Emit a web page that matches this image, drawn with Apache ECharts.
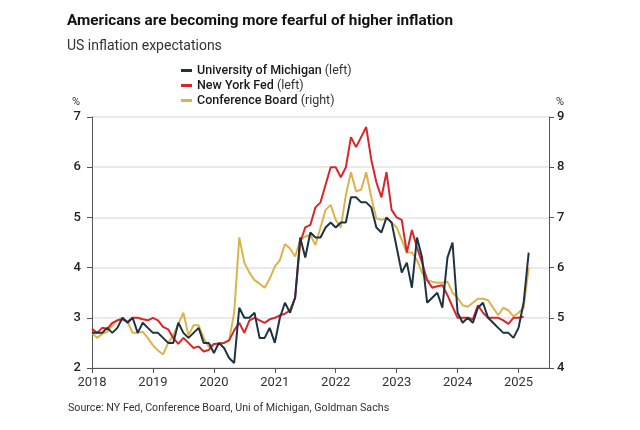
<!DOCTYPE html>
<html>
<head>
<meta charset="utf-8">
<script src="https://cdn.jsdelivr.net/npm/echarts@6/dist/echarts.min.js"></script>
<style>
html,body{margin:0;padding:0;background:#fff;}
#chart{width:640px;height:430px;}
</style>
</head>
<body>
<div id="chart"></div>
<script>
// Monthly observations, first point = Dec 2017 (plotted at month end)
const startYear = 2018;
const xTicks = [2018, 2019, 2020, 2021, 2022, 2023, 2024, 2025];
const leftTicks = [2, 3, 4, 5, 6, 7];
const rightTicks = [4, 5, 6, 7, 8, 9];

const seriesNames = ['University of Michigan (left)', 'New York Fed (left)', 'Conference Board (right)'];

// University of Michigan 1-yr expectations (left axis, %)
const michigan = [
  2.7,
  2.7, 2.7, 2.8, 2.7, 2.8, 3.0, 2.9, 3.0, 2.7, 2.9, 2.8, 2.7,
  2.7, 2.6, 2.5, 2.5, 2.9, 2.7, 2.6, 2.7, 2.8, 2.5, 2.5, 2.3,
  2.5, 2.4, 2.2, 2.1, 3.2, 3.0, 3.0, 3.1, 2.6, 2.6, 2.8, 2.5,
  3.0, 3.3, 3.1, 3.4, 4.6, 4.2, 4.7, 4.6, 4.6, 4.8, 4.9, 4.8,
  4.9, 4.9, 5.4, 5.4, 5.3, 5.3, 5.2, 4.8, 4.7, 5.0, 4.9, 4.4,
  3.9, 4.1, 3.6, 4.6, 4.2, 3.3, 3.4, 3.5, 3.2, 4.2, 4.5, 3.1,
  2.9, 3.0, 2.9, 3.2, 3.3, 3.0, 2.9, 2.8, 2.7, 2.7, 2.6, 2.8,
  3.3, 4.3
];

// New York Fed 1-yr expectations (left axis, %)
const nyFed = [
  2.78,
  2.7, 2.8, 2.78, 2.9, 2.95, 2.97, 2.92, 3.0, 3.0, 2.97, 2.95, 3.0,
  2.95, 2.82, 2.77, 2.6, 2.48, 2.6, 2.5, 2.4, 2.43, 2.33, 2.36, 2.48,
  2.49, 2.5, 2.55, 2.75, 2.9, 2.7, 2.95, 3.0, 2.95, 2.9, 2.97, 3.0,
  3.05, 3.08, 3.15, 3.4, 4.5, 4.8, 4.85, 5.2, 5.3, 5.65, 6.0, 6.0,
  5.8, 6.0, 6.6, 6.4, 6.6, 6.8, 6.15, 5.7, 5.4, 5.9, 5.15, 5.0,
  4.95, 4.3, 4.75, 4.4, 4.1, 3.75, 3.6, 3.63, 3.65, 3.45, 3.22, 3.0,
  3.0, 3.0, 2.97, 3.25, 3.1, 3.0, 3.0, 3.0, 2.95, 2.88, 3.0, 3.0,
  3.02
];

// Conference Board 12-month expectations (right axis, %)
const confBoard = [
  4.7,
  4.6, 4.68, 4.72, 4.85, 4.95, 5.0, 4.92, 4.7, 4.7, 4.72, 4.6, 4.45,
  4.35, 4.27, 4.5, 4.65, 4.88, 5.1, 4.65, 4.85, 4.85, 4.6, 4.42, 4.48,
  4.47, 4.5, 4.55, 5.1, 6.6, 6.1, 5.9, 5.75, 5.68, 5.6, 5.78, 6.02,
  6.15, 6.47, 6.38, 6.22, 6.55, 6.62, 6.65, 6.45, 6.8, 7.15, 7.25, 6.95,
  6.8, 7.45, 7.9, 7.52, 7.55, 7.9, 7.4, 6.98, 6.95, 6.98, 6.9, 6.8,
  6.55, 6.3, 6.3, 6.15, 5.9, 5.75, 5.72, 5.7, 5.7, 5.72, 5.5, 5.4,
  5.25, 5.22, 5.3, 5.38, 5.38, 5.35, 5.2, 5.05, 5.2, 5.15, 5.03, 5.1,
  5.2, 6.0
];

const colors = ['#1e3342', '#d9262b', '#d9b44c'];

function toXY(arr) {
  return arr.map((v, i) => [startYear + i / 12, v]);
}

const chart = echarts.init(document.getElementById('chart'), null, {renderer: 'canvas'});
const baseFont = 'Roboto, "Noto Sans", sans-serif';

chart.setOption({
  animation: false,
  backgroundColor: '#ffffff',
  textStyle: {fontFamily: baseFont},
  title: [
    {
      text: 'Americans are becoming more fearful of higher inflation',
      left: 62, top: 9,
      textStyle: {fontSize: 15.3, fontWeight: 'bold', color: '#111', fontFamily: baseFont}
    },
    {
      text: 'US inflation expectations',
      left: 62, top: 34,
      textStyle: {fontSize: 14, fontWeight: 'normal', color: '#333', fontFamily: baseFont}
    },
    {
      text: 'Source: NY Fed, Conference Board, Uni of Michigan, Goldman Sachs',
      left: 63, top: 398,
      textStyle: {fontSize: 10.7, fontWeight: 'normal', color: '#333', fontFamily: baseFont}
    }
  ],
  legend: {
    orient: 'vertical',
    left: 176, top: 59,
    itemWidth: 11, itemHeight: 3, itemGap: 2,
    icon: 'rect',
    data: seriesNames,
    formatter: function (name) {
      const i = name.indexOf(' (');
      return '{a|' + name.slice(0, i) + '} {b|' + name.slice(i + 1) + '}';
    },
    textStyle: {
      color: '#222', fontSize: 12.5, padding: [0, 0, 0, 0],
      rich: {
        a: {fontSize: 12.5, fontWeight: 500, color: '#1a1a1a', fontFamily: baseFont},
        b: {fontSize: 12.5, fontWeight: 'normal', color: '#333', fontFamily: baseFont}
      }
    }
  },
  grid: {left: 92, right: 91, top: 117, bottom: 62, containLabel: false},
  xAxis: {
    type: 'value',
    min: 2018, max: 2025.5, interval: 1,
    axisLine: {show: true, lineStyle: {color: '#555', width: 1}},
    axisTick: {show: true, length: 5, lineStyle: {color: '#555'}},
    splitLine: {show: false},
    axisLabel: {
      color: '#333', fontSize: 13, margin: 8, showMaxLabel: false,
      formatter: v => (xTicks.indexOf(v) >= 0 ? String(v) : '')
    }
  },
  yAxis: [
    {
      type: 'value', position: 'left',
      min: leftTicks[0], max: leftTicks[leftTicks.length - 1], interval: 1,
      name: '%', nameLocation: 'end', nameGap: 9,
      nameTextStyle: {color: '#333', fontSize: 11, align: 'right', padding: [0, 12, 0, 0]},
      axisLine: {show: true, lineStyle: {color: '#555', width: 1}},
      axisTick: {show: true, length: 5, lineStyle: {color: '#555'}},
      axisLabel: {color: '#222', fontSize: 13, fontWeight: 500, margin: 11},
      splitLine: {show: true, lineStyle: {color: '#e3e3e3', width: 1.5}}
    },
    {
      type: 'value', position: 'right',
      min: rightTicks[0], max: rightTicks[rightTicks.length - 1], interval: 1,
      name: '%', nameLocation: 'end', nameGap: 9,
      nameTextStyle: {color: '#333', fontSize: 11, align: 'left', padding: [0, 0, 0, 7]},
      axisLine: {show: true, lineStyle: {color: '#555', width: 1}},
      axisTick: {show: true, length: 5, lineStyle: {color: '#555'}},
      axisLabel: {color: '#222', fontSize: 13, fontWeight: 500, margin: 8},
      splitLine: {show: false}
    }
  ],
  series: [
    {
      name: seriesNames[2], type: 'line', yAxisIndex: 1, z: 1,
      data: toXY(confBoard), showSymbol: false, symbol: 'none',
      lineStyle: {color: colors[2], width: 2}, itemStyle: {color: colors[2]}
    },
    {
      name: seriesNames[1], type: 'line', yAxisIndex: 0, z: 2,
      data: toXY(nyFed), showSymbol: false, symbol: 'none',
      lineStyle: {color: colors[1], width: 2}, itemStyle: {color: colors[1]}
    },
    {
      name: seriesNames[0], type: 'line', yAxisIndex: 0, z: 3,
      data: toXY(michigan), showSymbol: false, symbol: 'none',
      lineStyle: {color: colors[0], width: 2}, itemStyle: {color: colors[0]}
    }
  ]
});
</script>
</body>
</html>
